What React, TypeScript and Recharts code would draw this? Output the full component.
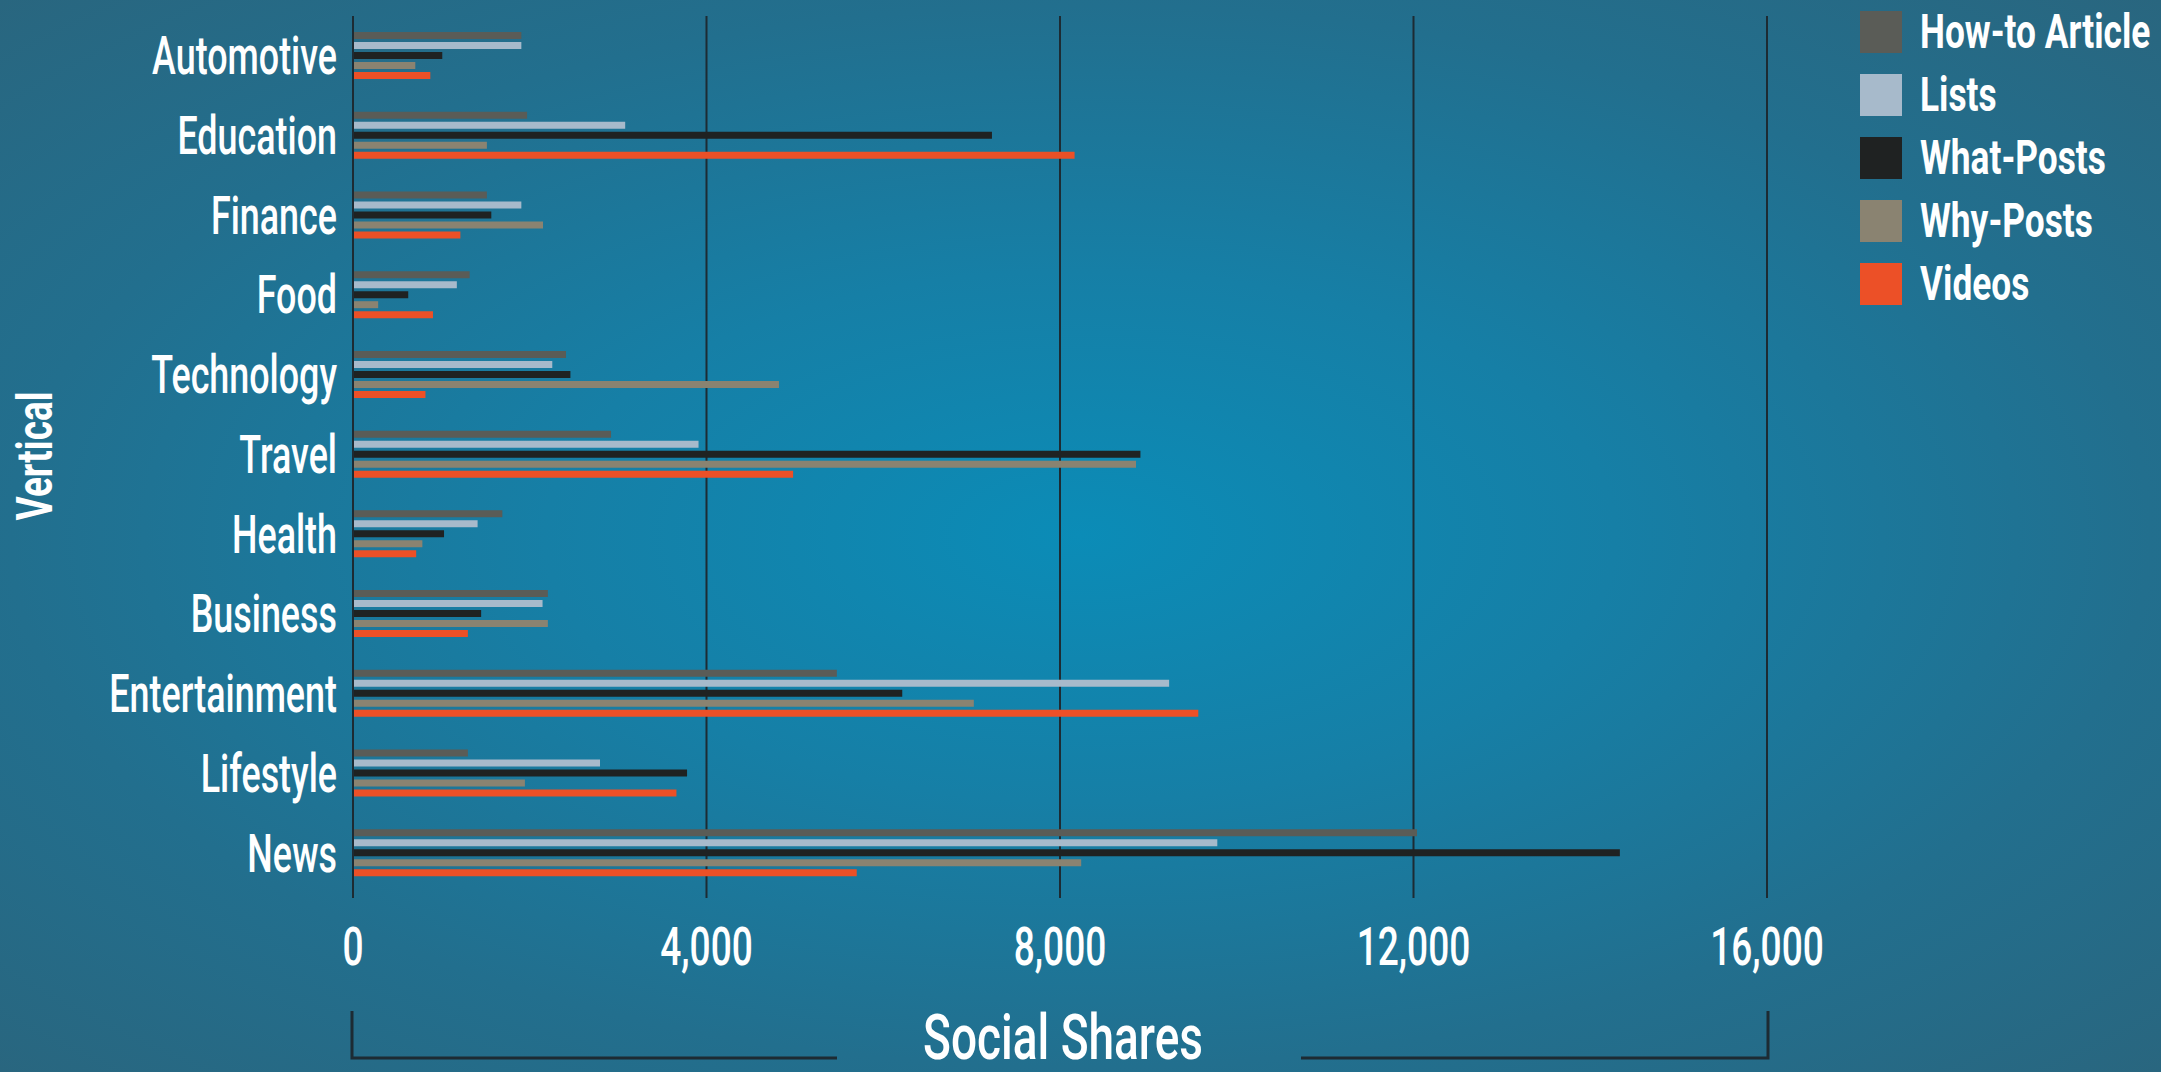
import React from 'react';
import { BarChart, Bar, XAxis, YAxis, CartesianGrid } from 'recharts';

// values, top to bottom
const verticals = ['Automotive', 'Education', 'Finance', 'Food', 'Technology', 'Travel', 'Health', 'Business', 'Entertainment', 'Lifestyle', 'News'];
const howToArticle = [1905, 1970, 1515, 1320, 2410, 2920, 1690, 2205, 5475, 1300, 12040];
const lists = [1905, 3080, 1905, 1175, 2255, 3910, 1410, 2145, 9235, 2795, 9780];
const whatPosts = [1010, 7230, 1565, 625, 2460, 8910, 1030, 1450, 6215, 3780, 14335];
const whyPosts = [705, 1515, 2150, 285, 4820, 8860, 785, 2205, 7025, 1945, 8240];
const videos = [875, 8165, 1215, 905, 820, 4980, 715, 1300, 9565, 3660, 5700];
const xTicks = [0, 4000, 8000, 12000, 16000];

const series = [
  { key: 'howTo', name: 'How-to Article', color: '#5a5c57', values: howToArticle },
  { key: 'lists', name: 'Lists', color: '#a7bacb', values: lists },
  { key: 'what', name: 'What-Posts', color: '#1f2222', values: whatPosts },
  { key: 'why', name: 'Why-Posts', color: '#8a8371', values: whyPosts },
  { key: 'videos', name: 'Videos', color: '#ec5027', values: videos },
];

const data = verticals.map((v, i) => {
  const row: Record<string, string | number> = { vertical: v };
  series.forEach((s) => (row[s.key] = s.values[i]));
  return row;
});

const W = 2161;
const H = 1072;
const FONT = 'Roboto, "DejaVu Sans", sans-serif';
const DARK = '#1d2b33';

const CategoryTick = ({ x, y, payload }: any) => (
  <g transform={`translate(${x},${y})`}>
    <text transform="scale(0.69,1.02)" textAnchor="end" dy={18} fill="#fff" fontFamily={FONT} fontWeight={500} fontSize={52}>
      {payload.value}
    </text>
  </g>
);

const ValueTick = ({ x, y, payload }: any) => (
  <g transform={`translate(${x},${y})`}>
    <text transform="scale(0.7,1)" textAnchor="middle" dy={67} fill="#fff" fontFamily={FONT} fontWeight={500} fontSize={53}>
      {Number(payload.value).toLocaleString('en-US')}
    </text>
  </g>
);

export default function App() {
  return (
    <div
      style={{
        position: 'absolute',
        left: 0,
        top: 0,
        width: W,
        height: H,
        overflow: 'hidden',
        background: 'radial-gradient(ellipse at 50% 50%, #0b8cb7 0%, #167fa6 35%, #226f8e 70%, #29667f 100%)',
      }}
    >
      <BarChart
        width={W}
        height={H}
        data={data}
        layout="vertical"
        margin={{ top: 16, right: 394, bottom: 119, left: 0 }}
        barSize={7}
        barGap={3}
      >
        <CartesianGrid horizontal={false} stroke={DARK} strokeWidth={2} />
        <XAxis
          type="number"
          domain={[0, 16000]}
          ticks={xTicks}
          height={60}
          axisLine={false}
          tickLine={{ stroke: DARK, strokeWidth: 2 }}
          tickSize={5}
          tickMargin={0}
          tick={<ValueTick />}
        />
        <YAxis
          type="category"
          dataKey="vertical"
          width={353}
          axisLine={{ stroke: DARK, strokeWidth: 2 }}
          tickLine={false}
          tickSize={0}
          tickMargin={16}
          tick={<CategoryTick />}
          interval={0}
        />
        {series.map((s) => (
          <Bar key={s.key} dataKey={s.key} name={s.name} fill={s.color} isAnimationActive={false} />
        ))}
      </BarChart>

      <svg width={W} height={H} style={{ position: 'absolute', left: 0, top: 0, pointerEvents: 'none' }}>
        {/* y axis title */}
        <g transform="translate(52,456) rotate(-90)">
          <text transform="scale(0.74,1)" textAnchor="middle" fill="#fff" fontFamily={FONT} fontWeight={700} fontSize={50}>
            Vertical
          </text>
        </g>
        {/* x axis title with bracket */}
        <g stroke={DARK} strokeWidth={3} fill="none">
          <polyline points="352,1011 352,1058 837,1058" />
          <polyline points="1301,1058 1768,1058 1768,1011" />
        </g>
        <g transform="translate(1063,1059)">
          <text transform="scale(0.73,1)" textAnchor="middle" fill="#fff" fontFamily={FONT} fontWeight={500} fontSize={63}>
            Social Shares
          </text>
        </g>
        {/* legend */}
        {series.map((s, i) => (
          <g key={s.key} transform={`translate(1860,${11 + i * 63})`}>
            <rect width={42} height={42} fill={s.color} />
            <g transform="translate(60,37)">
              <text transform="scale(0.72,1)" fill="#fff" fontFamily={FONT} fontWeight={700} fontSize={49}>
                {s.name}
              </text>
            </g>
          </g>
        ))}
      </svg>
    </div>
  );
}
